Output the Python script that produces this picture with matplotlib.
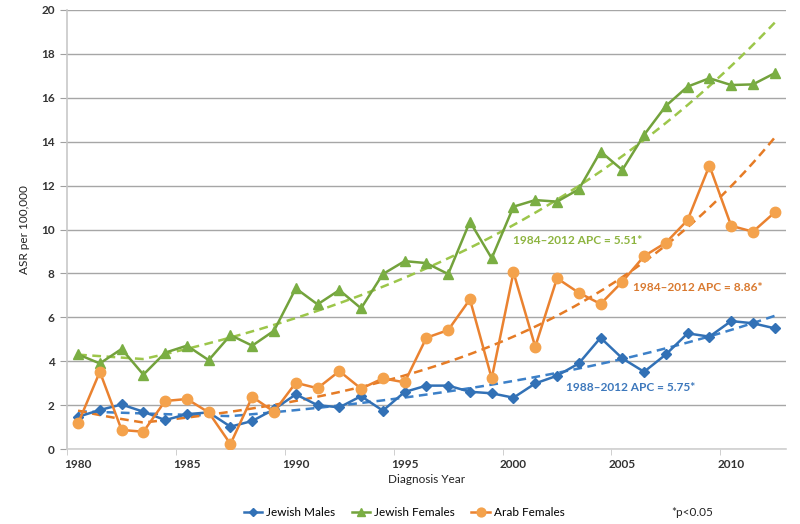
import numpy as np
import matplotlib
matplotlib.use("Agg")
import matplotlib.pyplot as plt
from matplotlib.lines import Line2D

plt.rcParams['font.family'] = ['Lato', 'DejaVu Sans']

years = list(range(1980, 2013))
jewish_males = [1.47, 1.78, 2.03, 1.70, 1.32, 1.59, 1.67, 1.02, 1.28, 1.81,
                2.49, 2.00, 1.90, 2.41, 1.75, 2.60, 2.89, 2.89, 2.61, 2.54,
                2.34, 2.99, 3.34, 3.90, 5.07, 4.13, 3.52, 4.31, 5.27, 5.12,
                5.83, 5.73, 5.50]
jewish_females = [4.31, 3.90, 4.56, 3.39, 4.39, 4.71, 4.05, 5.19, 4.71, 5.39,
                  7.32, 6.59, 7.24, 6.41, 7.97, 8.56, 8.47, 7.97, 10.36, 8.69,
                  11.04, 11.34, 11.27, 11.83, 13.55, 12.71, 14.31, 15.63, 16.51, 16.89,
                  16.58, 16.61, 17.12]
arab_females = [1.17, 3.52, 0.87, 0.79, 2.19, 2.28, 1.67, 0.23, 2.38, 1.70,
                3.02, 2.77, 3.55, 2.75, 3.22, 3.04, 5.07, 5.42, 6.82, 3.22,
                8.05, 4.66, 7.78, 7.12, 6.61, 7.62, 8.79, 9.40, 10.43, 12.91,
                10.17, 9.90, 10.78]
series_names = ["Jewish Males", "Jewish Females", "Arab Females"]
apc_labels = ["1988\u20132012 APC = 5.75*", "1984\u20132012 APC = 5.51*", "1984\u20132012 APC = 8.86*"]

trend_start = [1.72, 4.30, 1.75]      # fitted value at 1980
trend_joint_year = [1987, 1983, 1983]
trend_joint_value = [1.50, 4.10, 1.21]
trend_apc = [5.75, 5.51, 8.86]

x_ticks = [1980, 1985, 1990, 1995, 2000, 2005, 2010]
y_ticks = list(range(0, 21, 2))

fig = plt.figure(figsize=(8.0, 5.24), dpi=100)
ax = fig.add_axes([0.084, 0.143, 0.898, 0.838])

x = np.array(years, dtype=float)
styles = [
    dict(data=jewish_males, color="#3271B6", mfc="#3271B6", marker="D", ms=5.0, trend="#3C80C8"),
    dict(data=jewish_females, color="#73A23C", mfc="#7AAE43", marker="^", ms=7.5, trend="#9CC64A"),
    dict(data=arab_females, color="#EA8230", mfc="#F4A24C", marker="o", ms=7.5, trend="#E57B25"),
]

# joinpoint (piecewise log-linear) trendlines
xd = np.linspace(years[0], years[-1], 400)
for i, s in enumerate(styles):
    jy, jv, sv = trend_joint_year[i], trend_joint_value[i], trend_start[i]
    early_rate = np.log(jv / sv) / (jy - years[0])
    late_rate = np.log(1 + trend_apc[i] / 100.0)
    yd = np.where(xd <= jy,
                  sv * np.exp(early_rate * (xd - years[0])),
                  jv * np.exp(late_rate * (xd - jy)))
    ax.plot(xd, yd, ls=(0, (3.5, 2.2)), lw=1.8, color=s["trend"], zorder=2)

for s in styles:
    ax.plot(x, s["data"], color=s["color"], lw=1.8, marker=s["marker"], ms=s["ms"],
            mfc=s["mfc"], mec=s["mfc"], zorder=3)

ax.set_xlim(1979.5, 2012.5)
ax.set_ylim(0, 20)
ax.set_yticks(y_ticks)
ax.set_xticks(x_ticks)
ax.set_xticks([t - 0.5 for t in x_ticks], minor=True)
ax.tick_params(axis='x', which='major', length=0, pad=7, labelsize=8.5, labelcolor="#333333")
ax.tick_params(axis='x', which='minor', length=4, color="#C8C8C8", direction='out')
ax.tick_params(axis='y', length=5, color="#A0A0A0", pad=4, labelsize=8.5, labelcolor="#333333")
for lab in ax.get_xticklabels() + ax.get_yticklabels():
    lab.set_fontweight('bold')

ax.grid(axis='y', color="#A6A6A6", lw=1.0)
ax.set_axisbelow(True)
for sp in ['top', 'right']:
    ax.spines[sp].set_visible(False)
ax.spines['left'].set_color("#C8C8C8")
ax.spines['left'].set_linewidth(1.2)
ax.spines['bottom'].set_color("#D0D0D0")
ax.spines['bottom'].set_linewidth(1.2)

ax.set_ylabel("ASR per 100,000", fontsize=8.5, color="#222222", labelpad=8)
ax.set_xlabel("Diagnosis Year", fontsize=8.5, color="#222222", labelpad=3)

# APC annotations
ax.text(2000.0, 9.5, apc_labels[1], color="#8DB43F", fontsize=8.6, fontweight='bold', va='center')
ax.text(2005.5, 7.35, apc_labels[2], color="#D9792F", fontsize=8.6, fontweight='bold', va='center')
ax.text(2002.4, 2.8, apc_labels[0], color="#3D78BC", fontsize=8.6, fontweight='bold', va='center')

handles = [Line2D([0], [0], color=s["color"], lw=1.8, marker=s["marker"], ms=s["ms"] * 0.85,
                  mfc=s["mfc"], mec=s["mfc"]) for s in styles]
fig.legend(handles, series_names, loc='center', bbox_to_anchor=(0.505, 0.022), ncol=3,
           frameon=False, fontsize=8.5, handlelength=1.6, handletextpad=0.3, columnspacing=1.4)
fig.text(0.865, 0.022, "*p<0.05", fontsize=8.5, ha='center', va='center', color="#222222")

fig.savefig("out.png", dpi=100)
